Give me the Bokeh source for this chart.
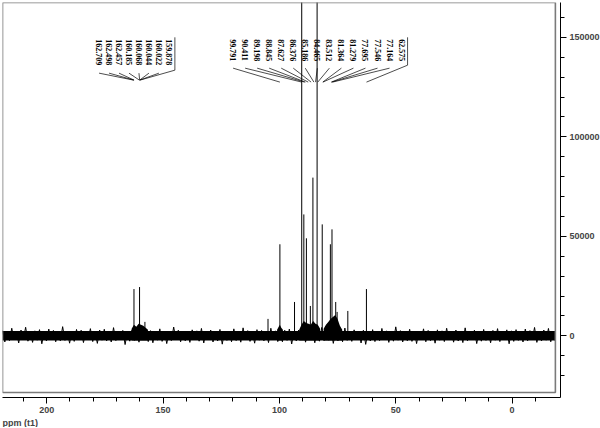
import numpy as np
from bokeh.plotting import figure
from bokeh.models import Range1d, FixedTicker, Title, NumeralTickFormatter
from bokeh.embed import file_html
from bokeh.resources import INLINE
from bokeh.core.properties import value

# ---------------- data ----------------
left_labels = ["162.709", "162.498", "162.457", "160.185", "160.068", "160.044", "160.022", "159.878"]
mid_labels = ["99.791", "90.411", "89.198", "88.845", "87.627", "86.376", "85.186", "84.465",
              "83.512", "81.364", "81.279", "77.695", "77.546", "77.164", "62.575"]

# stick peaks (ppm, intensity)
peak_ppm = [162.5, 160.1, 157.8, 104.9, 99.79, 93.5, 90.41, 89.5, 88.4, 86.7,
            85.6, 83.8, 81.6, 78.1, 77.4, 75.8, 75.2, 70.6, 62.6]
peak_int = [23500, 24500, 7000, 8500, 46000, 17000, 260000, 61000, 49000, 15000,
            79500, 260000, 56000, 46000, 53500, 17000, 12000, 12500, 23500]

# broad humps under peak clusters (ppm, upper envelope)
hump1_ppm = [163.5, 162.5, 161.5, 160.5, 159.5, 158.5, 157.5, 156.5]
hump1_top = [3500, 5500, 4500, 6000, 5500, 5000, 4000, 3000]
hump2_ppm = [91.5, 90.5, 89.5, 88.5, 87.5, 86.5, 85.5, 84.5, 83.5, 82.5]
hump2_top = [3000, 5500, 7500, 6500, 6000, 5500, 7500, 6000, 5500, 3500]
hump3_ppm = [81.0, 80.0, 79.0, 78.0, 77.0, 76.0, 75.0, 74.0, 73.0]
hump3_top = [3500, 5500, 7000, 8500, 9500, 10500, 8500, 5000, 3000]
hump4_ppm = [101.0, 100.3, 99.8, 99.2, 98.5]
hump4_top = [3000, 4500, 5500, 4000, 3000]

# baseline noise (intensity in thousands, successive points across the spectrum)
noise_k = [
    2.6, -3.1, 1.9, -2.4, 3.8, -2.0, 2.2, -3.6, 2.9, -1.8, 4.3, -2.7, 2.0, -3.3, 2.5, -2.2, 3.1, -4.0, 1.8, -2.6,
    3.4, -2.1, 2.7, -3.0, 2.1, -2.5, 4.6, -2.3, 2.4, -3.7, 1.9, -2.8, 3.2, -2.0, 2.8, -3.4, 2.2, -1.9, 3.6, -2.9,
    2.0, -3.8, 2.9, -2.2, 3.3, -2.6, 1.8, -3.1, 4.1, -2.4, 2.3, -2.0, 2.7, -4.4, 2.1, -2.7, 3.0, -2.3, 2.5, -3.2,
    3.9, -2.1, 2.2, -2.9, 2.6, -3.5, 1.9, -2.2, 3.5, -2.8, 2.4, -3.9, 2.0, -2.4, 4.4, -2.0, 2.8, -3.0, 2.3, -2.5,
    2.1, -3.3, 3.0, -2.1, 2.5, -2.7, 3.7, -3.6, 2.2, -2.0, 2.9, -3.1, 1.8, -2.6, 3.2, -4.2, 2.4, -2.3, 2.0, -3.0,
    3.5, -2.4, 2.3, -3.2, 4.0, -2.1, 2.6, -2.8, 2.0, -3.7, 3.1, -2.2, 2.7, -2.5, 2.1, -3.4, 3.8, -2.0, 2.5, -2.9,
    2.2, -3.0, 2.8, -2.3, 3.4, -4.1, 2.0, -2.6, 2.9, -2.1, 3.6, -3.2, 2.3, -2.0, 2.6, -3.5, 2.0, -2.7, 4.2, -2.4,
    2.7, -2.2, 3.3, -3.8, 2.1, -2.5, 2.9, -3.0, 3.9, -2.3, 2.2, -2.8, 3.0, -2.1, 2.4, -3.6, 2.8, -4.3, 2.1, -2.6,
    3.1, -2.9, 2.0, -2.4, 3.7, -2.0, 2.5, -3.3, 2.2, -2.7, 4.5, -2.2, 2.6, -3.1, 2.0, -2.5, 3.3, -2.8, 2.4, -3.9,
    2.3, -2.1, 3.5, -3.0, 2.7, -2.4, 2.1, -3.7, 3.0, -2.2, 2.5, -2.9, 3.8, -2.0, 2.2, -3.2, 2.9, -2.6, 2.0, -3.4,
    4.0, -2.5, 2.4, -2.1, 2.8, -3.9, 2.2, -2.7, 3.2, -2.3, 2.0, -3.5, 2.7, -2.2, 3.6, -2.9, 2.3, -2.0, 3.0, -4.0,
    2.5, -2.8, 3.1, -2.3, 2.0, -3.1, 3.4, -2.5, 2.6, -2.0, 4.2, -3.3, 2.1, -2.6, 2.9, -2.2, 3.7, -3.0, 2.4, -2.7,
]
noise_core = 2400

# tick values
x_major = [0, 50, 100, 150, 200]
x_minor = list(range(-10, 220, 10))
y_major = [0, 50000, 100000, 150000]
y_minor = list(range(-20000, 170000, 10000))

# ---------------- layout constants ----------------
X_LEFT, X_RIGHT = 219.0, -20.8          # plot range (ppm, reversed)
BOX_RIGHT = -18.6
Y_BOT, Y_TOP = -31000, 167500
BOX_BOT = -28500
FW, FH = 558, 395

p = figure(frame_width=FW, frame_height=FH, output_backend="svg", toolbar_location=None,
           x_range=Range1d(X_LEFT, X_RIGHT), y_range=Range1d(Y_BOT, Y_TOP),
           y_axis_location="right", min_border_left=2, min_border_top=2,
           min_border_bottom=0, min_border_right=0)
p.outline_line_color = None
p.xgrid.visible = False
p.ygrid.visible = False
p.background_fill_color = "white"

# baseline noise
zx = np.linspace(X_LEFT, BOX_RIGHT, len(noise_k))
zy = np.array(noise_k) * 1000
p.varea(x=[X_LEFT, BOX_RIGHT], y1=[-noise_core, -noise_core], y2=[noise_core, noise_core], fill_color="black")
p.line(x=zx, y=zy, line_color="black", line_width=1)

for hx, ht in [(hump1_ppm, hump1_top), (hump2_ppm, hump2_top), (hump3_ppm, hump3_top), (hump4_ppm, hump4_top)]:
    p.varea(x=hx, y1=[-noise_core] * len(hx), y2=ht, fill_color="black")

# peaks
p.segment(x0=peak_ppm, y0=[0] * len(peak_ppm), x1=peak_ppm, y1=peak_int, line_color="black", line_width=1)

# frame box
p.quad(left=[X_LEFT], right=[BOX_RIGHT], top=[Y_TOP], bottom=[BOX_BOT],
       fill_color=None, line_color="#7a7a7a", line_width=1.6)

# peak labels
LABEL_TOP = 149000
PX_PER_PPM = FW / (X_LEFT - X_RIGHT)


def group(labels, span, start_y, conv_y):
    lx = np.linspace(span[0], span[1], len(labels))
    p.text(x=lx, y=[LABEL_TOP] * len(labels), text=labels, angle=-np.pi / 2,
           text_align="left", text_baseline="middle", text_font=value("Liberation Serif"),
           text_font_style="bold", text_font_size="8px", text_color="black")
    xs, ys = [], []
    for i, (xv, lab) in enumerate(zip(lx, labels)):
        pk = float(lab)
        if i == len(labels) - 1:
            bx = xv - 6 / PX_PER_PPM
            xs.append([bx, bx, pk])
            ys.append([LABEL_TOP + 1000, start_y + 1500, conv_y])
        else:
            xs.append([xv, pk])
            ys.append([start_y, conv_y])
    p.multi_line(xs=xs, ys=ys, line_color="black", line_width=0.7)


group(left_labels, (177.5, 147.5), 132000, 128500)
group(mid_labels, (119.9, 47.5), 134500, 127500)

# axes
for ax in (p.xaxis[0], p.yaxis[0]):
    ax.axis_line_color = "black"
    ax.major_tick_out = 6
    ax.major_tick_in = 0
    ax.minor_tick_out = 4
    ax.minor_tick_in = 0
    ax.major_label_text_font = "Liberation Sans"
    ax.major_label_text_font_style = "bold"
    ax.major_label_text_font_size = "9px"
    ax.major_label_standoff = 3

p.xaxis[0].ticker = FixedTicker(ticks=x_major, minor_ticks=x_minor)
p.yaxis[0].ticker = FixedTicker(ticks=y_major, minor_ticks=y_minor)
p.yaxis[0].formatter = NumeralTickFormatter(format="0")

p.add_layout(Title(text="ppm (t1)", align="left", text_font="Liberation Sans", text_font_style="bold",
                   text_font_size="9px", standoff=0, offset=0), "below")

open("out.html", "w").write(file_html(p, INLINE))
